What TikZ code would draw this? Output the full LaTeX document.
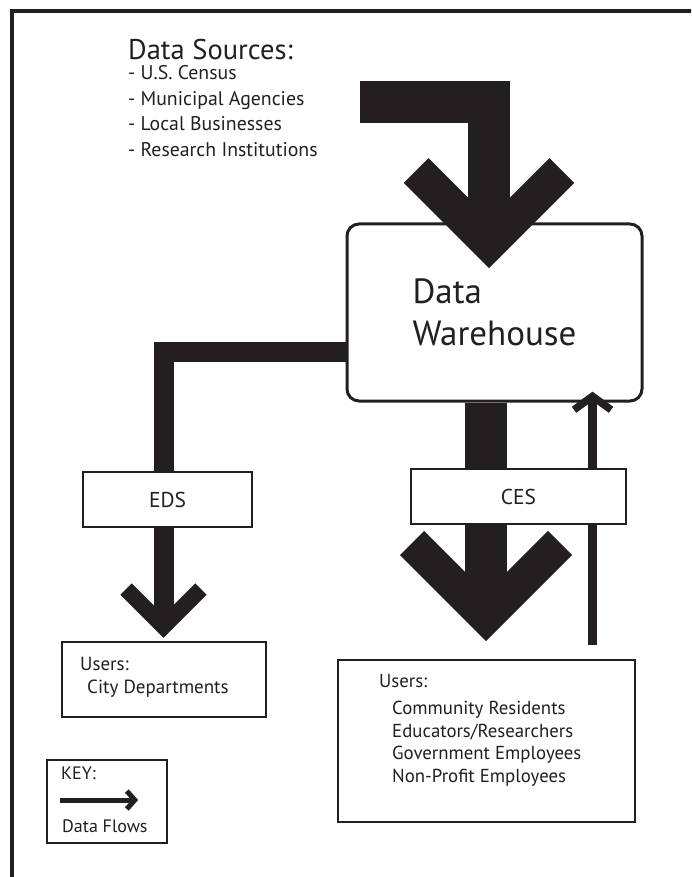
\documentclass[tikz,border=0pt]{standalone}
\usepackage{fontspec}
\setmainfont{PT Sans}
\usetikzlibrary{calc, backgrounds}

\definecolor{ink}{RGB}{35,31,32}

% arrow head: tip, half spread, back length, arm width, rotation
\newcommand{\flowhead}[5]{%
  \draw[ink, line width=#4, line join=miter, shift={(#1)}, rotate=#5] (-#2,-#3) -- (0,0) -- (#2,-#3);}

\begin{document}
\begin{tikzpicture}[
      x=1pt, y=-1pt, color=ink,
      frame/.style={draw=ink, line width=3.5pt},
      box/.style={draw=ink, line width=1.8pt, fill=white, inner sep=0pt},
      warebox/.style={draw=ink, line width=3pt, rounded corners=12pt, align=left,
        font=\fontsize{35}{42}\selectfont},
      system/.style={box, font=\fontsize{21.5}{26}\selectfont},
      headtxt/.style={inner sep=0pt, anchor=base west, font=\fontsize{28.5}{34}\selectfont},
      listtxt/.style={inner sep=0pt, anchor=base west, font=\fontsize{19.8}{24}\selectfont},
      citytxt/.style={inner sep=0pt, anchor=base west, font=\fontsize{19}{22}\selectfont},
      restxt/.style={inner sep=0pt, anchor=base west, font=\fontsize{18.8}{22}\selectfont},
      keytxt/.style={inner sep=0pt, anchor=base west, font=\fontsize{18}{21}\selectfont},
      bigflow/.style={draw=ink, line width=42pt},
      midflow/.style={draw=ink, line width=20pt},
      thinflow/.style={draw=ink, line width=9pt},
      keyflow/.style={draw=ink, line width=5pt}
    ]

    \useasboundingbox (0,0) rectangle (691,877);
    \clip (0,0) rectangle (691,877);

    % Outer frame
    \draw[frame] (12,11) rectangle (720,900);

    % Data sources
    \node[headtxt] (srchead) at (128,59.5) {Data Sources:};
    \node[listtxt] (src1) at (128,80) {- U.S. Census};
    \node[listtxt] (src2) at (128,105.5) {- Municipal Agencies};
    \node[listtxt] (src3) at (128,131) {- Local Businesses};
    \node[listtxt] (src4) at (128,156.5) {- Research Institutions};

    % Warehouse and systems
    \node[warebox, minimum width=295pt, minimum height=177pt] (warehouse) at (494.5,312.5) {Data\\Warehouse};
    \node[system, minimum width=169pt, minimum height=55pt] (eds) at (167.5,499.5) {EDS};
    \node[system, minimum width=215pt, minimum height=55pt] (ces) at (518.5,496.5) {CES};

    % Users of EDS
    \node[box, minimum width=204pt, minimum height=75pt] (cityusers) at (164,679.5) {};
    \node[citytxt] (citylbl) at (80,670) {Users:};
    \node[citytxt] (citydept) at (87,693.3) {City Departments};

    % Users of CES
    \node[box, minimum width=297pt, minimum height=162pt] (resusers) at (486.5,741) {};
    \node[restxt] (reslbl) at (379,687) {Users:};
    \node[restxt] (res1) at (392,714) {Community Residents};
    \node[restxt] (res2) at (392,737) {Educators/Researchers};
    \node[restxt] (res3) at (392,759.5) {Government Employees};
    \node[restxt] (res4) at (392,782) {Non-Profit Employees};

    % Key
    \node[box, minimum width=120pt, minimum height=83pt] (keybox) at (107,801.5) {};
    \node[keytxt] (keylbl) at (61,779) {KEY:};
    \node[keytxt] (keyflows) at (62,832) {Data Flows};

    % Data flows
    \coordinate (srcin) at (360,102.5);
    \coordinate (tipA) at (489,243.3);
    \coordinate (tipE) at (163.5,626.5);
    \coordinate (tipC) at (486,617);
    \coordinate (fbfrom) at ($(resusers.north)+(106,-14)$);
    \coordinate (tipF) at (592.5,396.3);
    \coordinate (keyfrom) at (60,800);
    \coordinate (keyto) at (134.8,800);

    \begin{scope}[on background layer]
      % Sources into warehouse
      \draw[bigflow] (srcin) -| (tipA);
      \flowhead{tipA}{72.8}{72.8}{35pt}{0}

      % Warehouse to EDS users
      \draw[midflow] ($(warehouse.west)+(0,39.5)$) -| (tipE);
      \flowhead{tipE}{37.5}{37.5}{16pt}{0}

      % Warehouse to CES users
      \draw[bigflow] (tipC |- warehouse.south) -- (tipC);
      \flowhead{tipC}{74}{74}{34pt}{0}

      % Feedback from CES users
      \draw[thinflow] (fbfrom) -- (tipF);
      \flowhead{tipF}{18.5}{13.5}{7.5pt}{180}
    \end{scope}

    % Key arrow
    \draw[keyflow] (keyfrom) -- (keyto);
    \flowhead{keyto}{9}{8}{5pt}{90}

  \end{tikzpicture}
\end{document}
